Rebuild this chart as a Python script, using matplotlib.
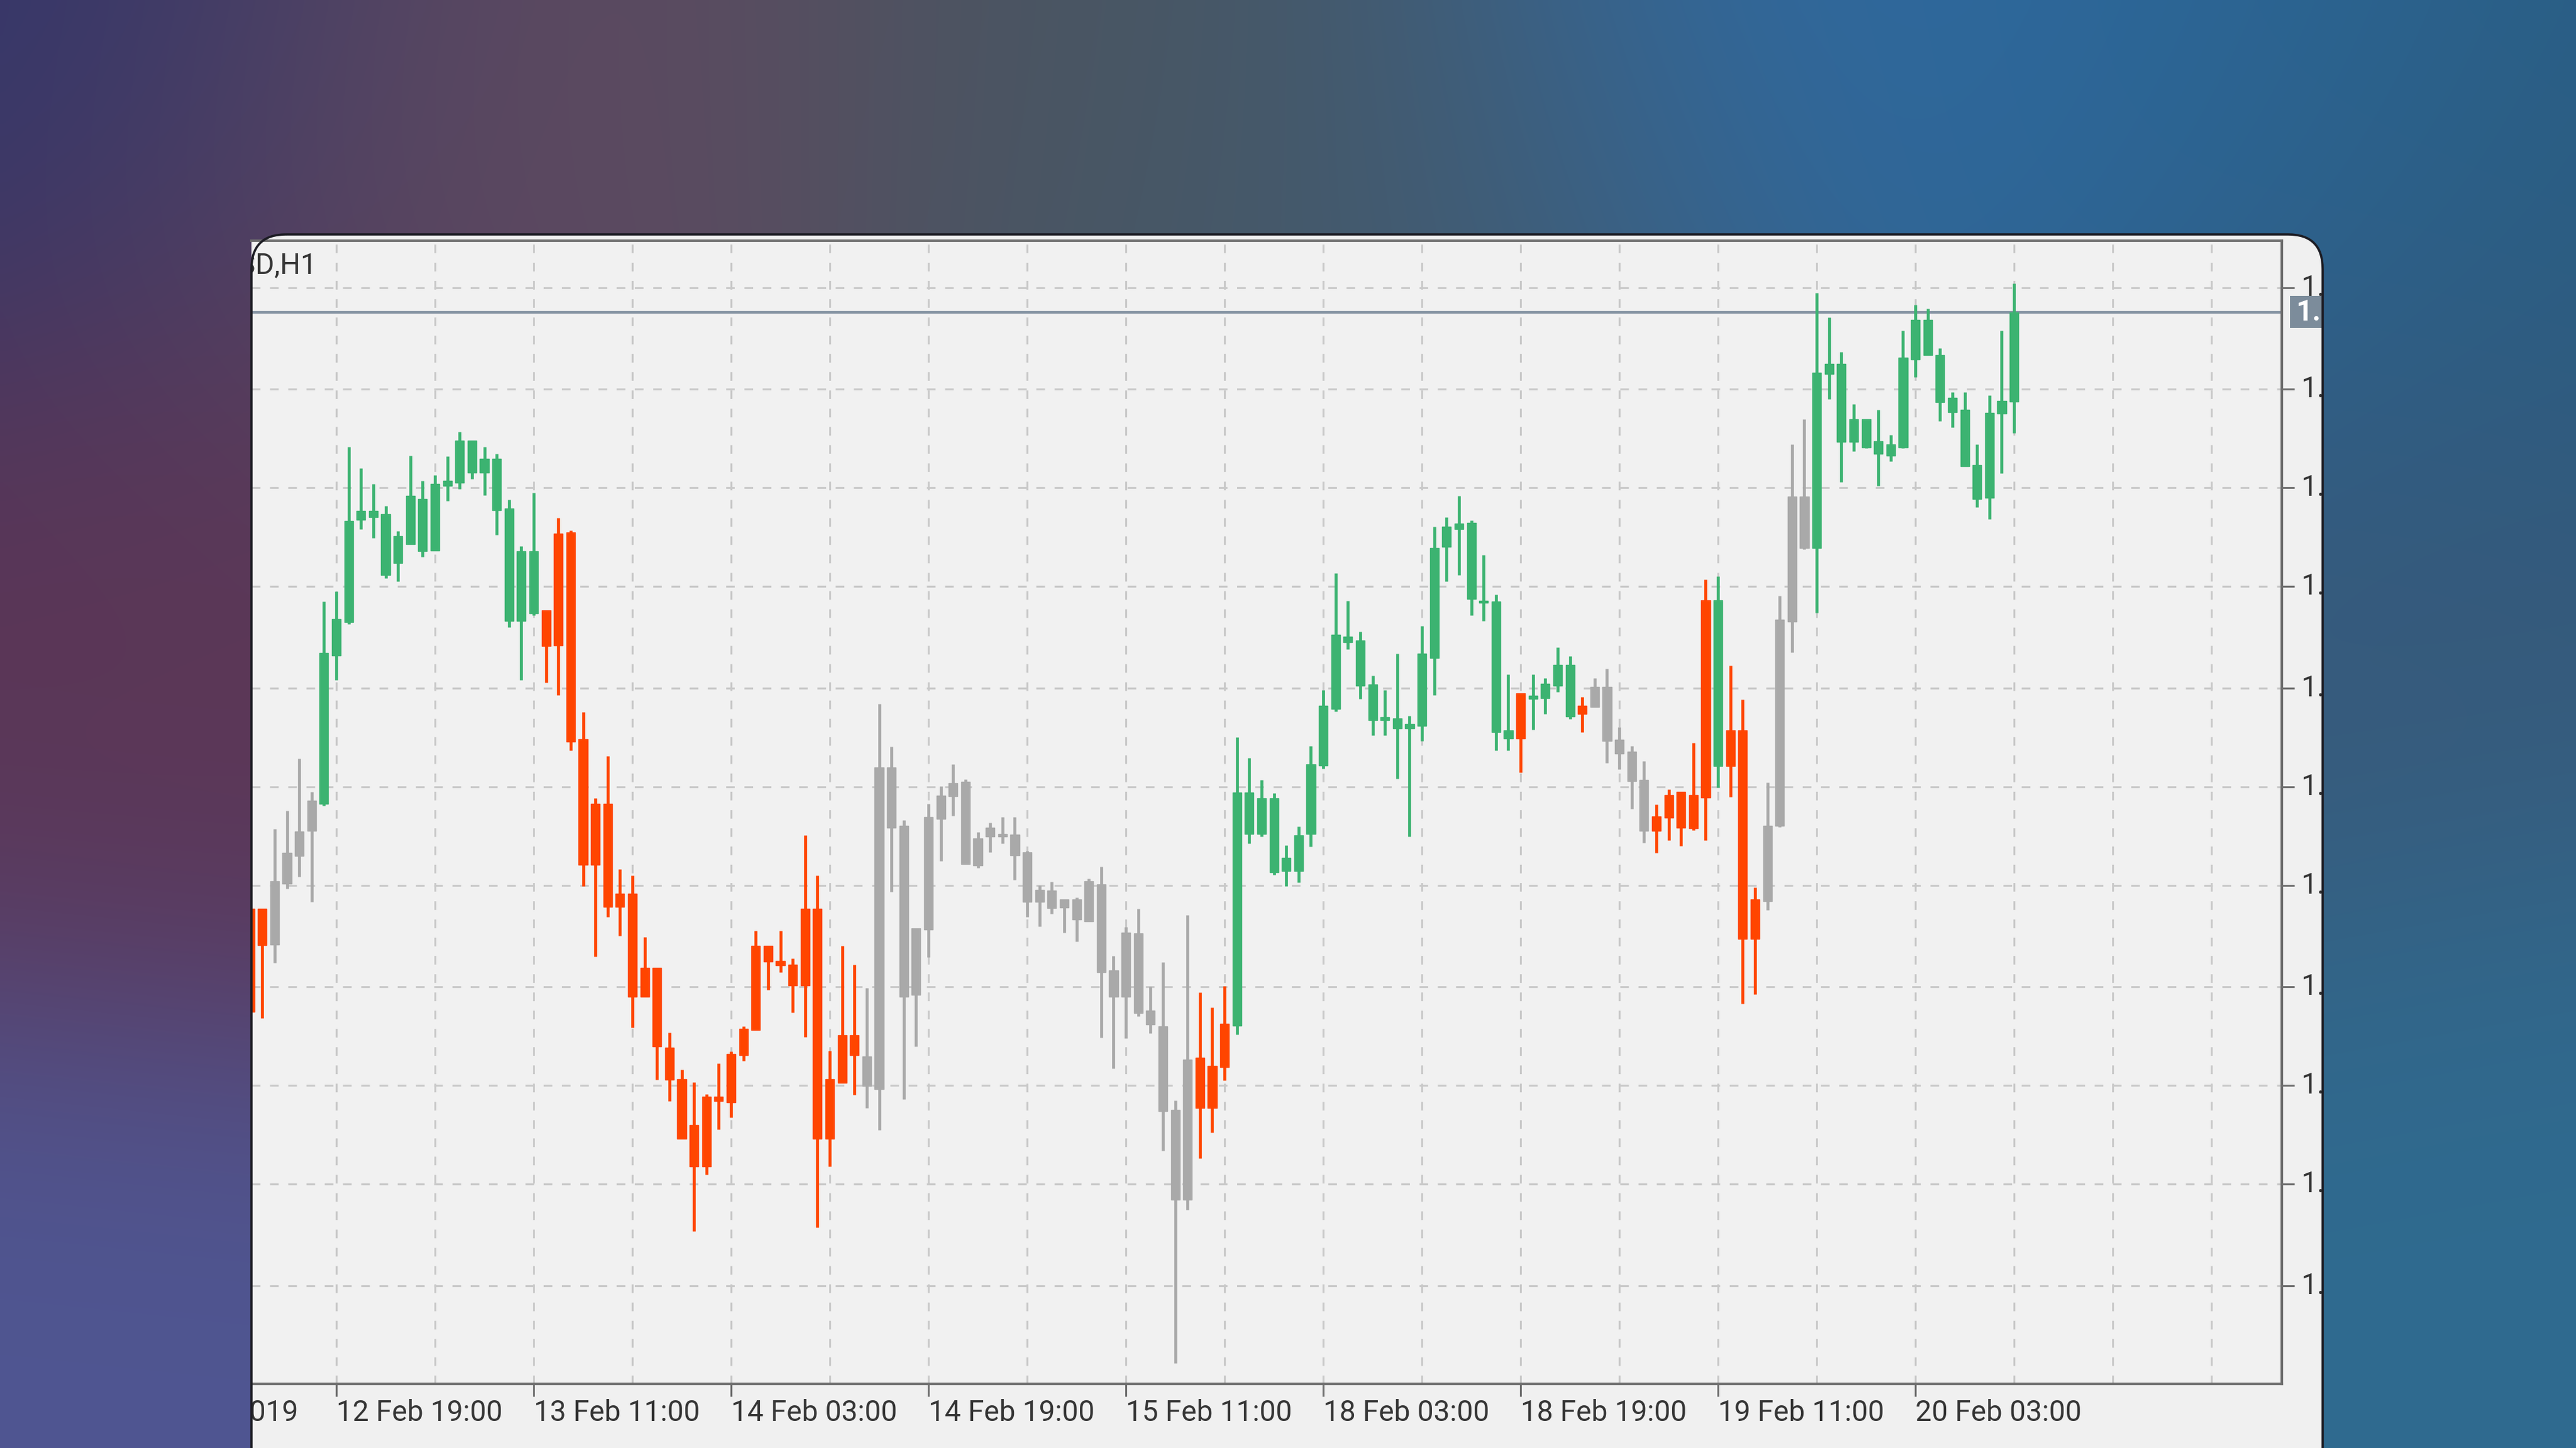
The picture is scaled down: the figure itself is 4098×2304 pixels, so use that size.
import numpy as np
import matplotlib
matplotlib.use("Agg")
import matplotlib.pyplot as plt
from matplotlib.patches import FancyBboxPatch, Rectangle
from matplotlib.transforms import Bbox, blended_transform_factory, offset_copy
from matplotlib.colors import to_rgb

# ---------------- data ----------------
symbol = "EURUSD,H1"
bar_index = list(range(-7, 137))

high = [1.12614, 1.12614, 1.12741, 1.12770, 1.12853, 1.12800, 1.13103, 1.13119, 1.13349, 1.13315,
        1.13290, 1.13255, 1.13215, 1.13335, 1.13295, 1.13304, 1.13334, 1.13373, 1.13359, 1.13349,
        1.13338, 1.13265, 1.13191, 1.13276, 1.13089, 1.13236, 1.13216, 1.12927, 1.12790, 1.12857,
        1.12677, 1.12667, 1.12569, 1.12520, 1.12417, 1.12358, 1.12338, 1.12319, 1.12368, 1.12387,
        1.12427, 1.12579, 1.12555, 1.12579, 1.12535, 1.12731, 1.12667, 1.12388, 1.12555, 1.12525,
        1.12488, 1.12940, 1.12872, 1.12755, 1.12583, 1.12781, 1.12809, 1.12844, 1.12820, 1.12736,
        1.12751, 1.12760, 1.12760, 1.12706, 1.12651, 1.12657, 1.12629, 1.12632, 1.12662, 1.12681,
        1.12539, 1.12585, 1.12614, 1.12490, 1.12529, 1.12309, 1.12604, 1.12481, 1.12457, 1.12491,
        1.12887, 1.12854, 1.12819, 1.12798, 1.12715, 1.12745, 1.12873, 1.12962, 1.13148, 1.13104,
        1.13055, 1.12985, 1.12962, 1.13020, 1.12921, 1.13064, 1.13222, 1.13237, 1.13271, 1.13232,
        1.13177, 1.13114, 1.12987, 1.12957, 1.12987, 1.12981, 1.13030, 1.13016, 1.12951, 1.12981,
        1.12996, 1.12903, 1.12873, 1.12849, 1.12780, 1.12804, 1.12800, 1.12878, 1.13138, 1.13143,
        1.13001, 1.12947, 1.12648, 1.12815, 1.13112, 1.13353, 1.13393, 1.13594, 1.13555, 1.13500,
        1.13417, 1.13393, 1.13408, 1.13368, 1.13534, 1.13575, 1.13569, 1.13506, 1.13436, 1.13436,
        1.13353, 1.13431, 1.13534, 1.13609]

body_top = [1.12614, 1.12614, 1.12658, 1.12703, 1.12737, 1.12786, 1.13021, 1.13075, 1.13231, 1.13247,
            1.13247, 1.13242, 1.13207, 1.13271, 1.13266, 1.13290, 1.13295, 1.13359, 1.13359, 1.13330,
            1.13330, 1.13251, 1.13183, 1.13183, 1.13089, 1.13211, 1.13213, 1.12884, 1.12781, 1.12781,
            1.12638, 1.12638, 1.12520, 1.12520, 1.12393, 1.12343, 1.12270, 1.12315, 1.12315, 1.12383,
            1.12423, 1.12555, 1.12555, 1.12531, 1.12525, 1.12614, 1.12614, 1.12343, 1.12413, 1.12413,
            1.12379, 1.12839, 1.12839, 1.12746, 1.12583, 1.12760, 1.12794, 1.12814, 1.12816, 1.12726,
            1.12743, 1.12733, 1.12732, 1.12704, 1.12644, 1.12643, 1.12629, 1.12629, 1.12658, 1.12653,
            1.12516, 1.12576, 1.12575, 1.12452, 1.12427, 1.12294, 1.12374, 1.12377, 1.12364, 1.12431,
            1.12799, 1.12799, 1.12790, 1.12790, 1.12695, 1.12731, 1.12844, 1.12937, 1.13050, 1.13047,
            1.13041, 1.12971, 1.12919, 1.12917, 1.12908, 1.13020, 1.13188, 1.13222, 1.13227, 1.13228,
            1.13104, 1.13103, 1.12898, 1.12957, 1.12953, 1.12972, 1.13002, 1.13002, 1.12937, 1.12967,
            1.12967, 1.12883, 1.12864, 1.12819, 1.12761, 1.12795, 1.12800, 1.12795, 1.13105, 1.13105,
            1.12898, 1.12898, 1.12629, 1.12746, 1.13074, 1.13270, 1.13270, 1.13467, 1.13481, 1.13481,
            1.13393, 1.13393, 1.13358, 1.13353, 1.13491, 1.13551, 1.13551, 1.13495, 1.13427, 1.13408,
            1.13320, 1.13403, 1.13422, 1.13563]

body_bottom = [1.12450, 1.12556, 1.12557, 1.12654, 1.12698, 1.12738, 1.12781, 1.13017, 1.13070, 1.13233,
               1.13237, 1.13145, 1.13164, 1.13194, 1.13183, 1.13184, 1.13287, 1.13292, 1.13308, 1.13308,
               1.13248, 1.13072, 1.13072, 1.13084, 1.13032, 1.13033, 1.12880, 1.12684, 1.12684, 1.12617,
               1.12617, 1.12474, 1.12474, 1.12395, 1.12342, 1.12248, 1.12204, 1.12204, 1.12308, 1.12306,
               1.12381, 1.12421, 1.12530, 1.12524, 1.12492, 1.12492, 1.12248, 1.12248, 1.12337, 1.12381,
               1.12332, 1.12327, 1.12743, 1.12474, 1.12477, 1.12581, 1.12757, 1.12793, 1.12685, 1.12683,
               1.12729, 1.12729, 1.12699, 1.12625, 1.12625, 1.12615, 1.12616, 1.12597, 1.12594, 1.12513,
               1.12474, 1.12474, 1.12448, 1.12430, 1.12292, 1.12151, 1.12151, 1.12297, 1.12297, 1.12362,
               1.12428, 1.12733, 1.12733, 1.12672, 1.12674, 1.12674, 1.12733, 1.12842, 1.12932, 1.13038,
               1.12969, 1.12914, 1.12914, 1.12901, 1.12901, 1.12905, 1.13013, 1.13190, 1.13218, 1.13107,
               1.13101, 1.12895, 1.12885, 1.12885, 1.12948, 1.12949, 1.12969, 1.12920, 1.12924, 1.12935,
               1.12881, 1.12861, 1.12817, 1.12738, 1.12738, 1.12759, 1.12743, 1.12742, 1.12791, 1.12841,
               1.12841, 1.12566, 1.12566, 1.12626, 1.12746, 1.13071, 1.13188, 1.13188, 1.13465, 1.13357,
               1.13357, 1.13348, 1.13338, 1.13335, 1.13348, 1.13488, 1.13495, 1.13420, 1.13404, 1.13318,
               1.13266, 1.13268, 1.13402, 1.13421]

low = [1.12435, 1.12440, 1.12528, 1.12646, 1.12665, 1.12625, 1.12778, 1.12978, 1.13067, 1.13218,
       1.13204, 1.13140, 1.13135, 1.13194, 1.13174, 1.13184, 1.13263, 1.13282, 1.13298, 1.13272,
       1.13209, 1.13062, 1.12978, 1.13081, 1.12974, 1.12954, 1.12866, 1.12650, 1.12538, 1.12601,
       1.12571, 1.12425, 1.12474, 1.12342, 1.12308, 1.12248, 1.12101, 1.12191, 1.12263, 1.12282,
       1.12372, 1.12421, 1.12485, 1.12513, 1.12449, 1.12410, 1.12107, 1.12204, 1.12337, 1.12318,
       1.12297, 1.12262, 1.12641, 1.12311, 1.12395, 1.12537, 1.12690, 1.12762, 1.12685, 1.12679,
       1.12704, 1.12718, 1.12660, 1.12601, 1.12586, 1.12606, 1.12576, 1.12562, 1.12594, 1.12409,
       1.12360, 1.12408, 1.12443, 1.12416, 1.12229, 1.11891, 1.12135, 1.12217, 1.12258, 1.12341,
       1.12414, 1.12718, 1.12729, 1.12668, 1.12650, 1.12656, 1.12713, 1.12837, 1.12928, 1.13027,
       1.12948, 1.12890, 1.12890, 1.12821, 1.12729, 1.12881, 1.12954, 1.13135, 1.13145, 1.13081,
       1.13072, 1.12866, 1.12866, 1.12831, 1.12899, 1.12924, 1.12959, 1.12916, 1.12895, 1.12935,
       1.12846, 1.12836, 1.12773, 1.12719, 1.12703, 1.12723, 1.12714, 1.12739, 1.12723, 1.12807,
       1.12792, 1.12463, 1.12478, 1.12612, 1.12744, 1.13022, 1.13186, 1.13085, 1.13425, 1.13293,
       1.13342, 1.13347, 1.13287, 1.13326, 1.13347, 1.13460, 1.13495, 1.13390, 1.13380, 1.13318,
       1.13253, 1.13234, 1.13307, 1.13371]

# trend colouring of the candles (run-length: trend, number of bars)
trend_runs = [("down", 2), ("flat", 4), ("up", 18), ("down", 26), ("flat", 27), ("down", 3),
              ("up", 23), ("down", 1), ("up", 4), ("down", 1), ("flat", 5), ("down", 5),
              ("up", 1), ("down", 3), ("flat", 4), ("up", 17)]

x_label_bars = [-16, 0, 16, 32, 48, 64, 80, 96, 112, 128]
x_labels = ["12 Feb 2019", "12 Feb 19:00", "13 Feb 11:00", "14 Feb 03:00", "14 Feb 19:00",
            "15 Feb 11:00", "18 Feb 03:00", "18 Feb 19:00", "19 Feb 11:00", "20 Feb 03:00"]
x_grid_bars = list(range(0, 153, 8))
y_grid = [1.13602, 1.13441, 1.13284, 1.13127, 1.12965, 1.12808,
          1.12651, 1.12490, 1.12333, 1.12176, 1.12014]
current_price = 1.13563

# ---------------- style ----------------
W, H = 4098, 2304
COL = {"up": "#3cb371", "down": "#ff4500", "flat": "#a9a9a9"}
FONT = "Roboto"
FS = 33
TXT = "#353535"

trend = [t for t, n in trend_runs for _ in range(n)]
cols = [COL[t] for t in trend]

fig = plt.figure(figsize=(W / 100, H / 100), dpi=100)

# background gradient
bg = fig.add_axes([0, 0, 1, 1])
bg.set_xlim(0, W)
bg.set_ylim(H, 0)
bg.axis("off")
gh, gw = 180, 320
yy, xx = np.mgrid[0:1:gh * 1j, 0:1:gw * 1j]
ctrl = [(0.00, 0.00, "#34366a"), (0.20, 0.08, "#5e4a60"), (0.05, 0.45, "#5c3656"),
        (0.02, 0.95, "#4f5692"), (0.45, 0.06, "#4a5560"), (0.68, 0.04, "#2f6aa2"),
        (0.85, 0.08, "#2c6798"), (0.99, 0.15, "#295c80"), (0.93, 0.42, "#3a5878"),
        (0.97, 0.80, "#2f6b90"), (0.55, 0.20, "#445a6c")]
num = np.zeros((gh, gw, 3))
den = np.zeros((gh, gw))
for px, py, c in ctrl:
    w = np.exp(-(((xx - px) * 1.78) ** 2 + (yy - py) ** 2) / 0.06)
    num += w[..., None] * np.array(to_rgb(c))
    den += w
img = num / den[..., None]
bg.imshow(img, extent=(0, W, H, 0), interpolation="bicubic", aspect="auto", zorder=0)

card_x0, card_y0, card_x1 = 400, 373, 3695
card = FancyBboxPatch((card_x0, card_y0), card_x1 - card_x0, 2300,
                      boxstyle="round,pad=0,rounding_size=55",
                      fc="#f0f0f0", ec="none", zorder=1)
bg.add_patch(card)
card_edge = FancyBboxPatch((card_x0, card_y0), card_x1 - card_x0, 2300,
                           boxstyle="round,pad=0,rounding_size=55",
                           fc="none", ec="#1d1d24", lw=2.6, zorder=6,
                           transform=bg.transData)
fig.add_artist(card_edge)

clip = Bbox.from_extents(card_x0 + 1, -400, card_x1 - 1, H - card_y0)

# chart axes
ax_l, ax_r, ax_t, ax_b = 400, 3630, 383, 2202
ax = fig.add_axes([ax_l / W, (H - ax_b) / H, (ax_r - ax_l) / W, (ax_b - ax_t) / H], zorder=2)
ax.set_facecolor("#f1f1f1")
ax.set_xlim(-6.88, 157.7)
ax.set_ylim(1.11858, 1.13677)

grid_kw = dict(color="#c9c9c9", lw=2.2, linestyle=(0, (4.5, 5)), zorder=1)
for g in x_grid_bars:
    ax.axvline(g, **grid_kw)
for g in y_grid:
    ax.axhline(g, **grid_kw)

ax.axhline(current_price, color="#8795a4", lw=3.0, zorder=2)

ax.vlines(bar_index, low, high, colors=cols, lw=3.4, zorder=3)
bt = np.array(body_top)
bb = np.array(body_bottom)
ax.bar(bar_index, bt - bb, bottom=bb, width=0.72, color=cols, edgecolor=cols,
       linewidth=1.0, zorder=4)

for s in ["top", "right", "bottom"]:
    ax.spines[s].set_color("#6f6f6f")
    ax.spines[s].set_linewidth(3.0)
ax.spines["left"].set_visible(False)

ax.set_xticks([b for b in x_label_bars if b >= 0])
ax.set_xticklabels([])
ax.set_yticks(y_grid)
ax.set_yticklabels([])
ax.yaxis.tick_right()
ax.tick_params(axis="both", direction="out", length=14.4, width=2.2, color="#6f6f6f")

# x labels (left-aligned at the tick, clipped by the card)
tx = offset_copy(blended_transform_factory(ax.transData, ax.transAxes), fig=fig,
                 x=0, y=-24, units="dots")
for b, lab in zip(x_label_bars, x_labels):
    t = ax.text(b, 0, lab, transform=tx, ha="left", va="top", fontsize=FS,
                family=FONT, color=TXT, clip_on=True)
    t.set_clip_box(clip)

# y labels (clipped at card edge)
ty = offset_copy(blended_transform_factory(ax.transAxes, ax.transData), fig=fig,
                 x=30, y=0, units="dots")
for g in y_grid:
    t = ax.text(1, g, f"{g:.5f}", transform=ty, ha="left", va="center", fontsize=FS,
                family=FONT, color=TXT, clip_on=True)
    t.set_clip_box(clip)

# current price tag
tag = Rectangle((3643, 471), 200, 51, fc="#7c8c9b", ec="none", zorder=3)
bg.add_patch(tag)
tag.set_clip_box(clip)
tp = ax.text(1, current_price, f"{current_price:.5f}",
             transform=offset_copy(blended_transform_factory(ax.transAxes, ax.transData),
                                   fig=fig, x=22, y=0, units="dots"),
             ha="left", va="center", fontsize=FS, family=FONT, color="white",
             fontweight="bold", clip_on=True)
tp.set_clip_box(clip)

# symbol title (clipped at card edge)
tt = ax.text(0, 1, symbol, transform=offset_copy(ax.transAxes, fig=fig, x=104, y=-17, units="dots"),
             ha="right", va="top", fontsize=FS, family=FONT, color=TXT, clip_on=True)
tt.set_clip_box(clip)

fig.savefig("out.png", dpi=100)
